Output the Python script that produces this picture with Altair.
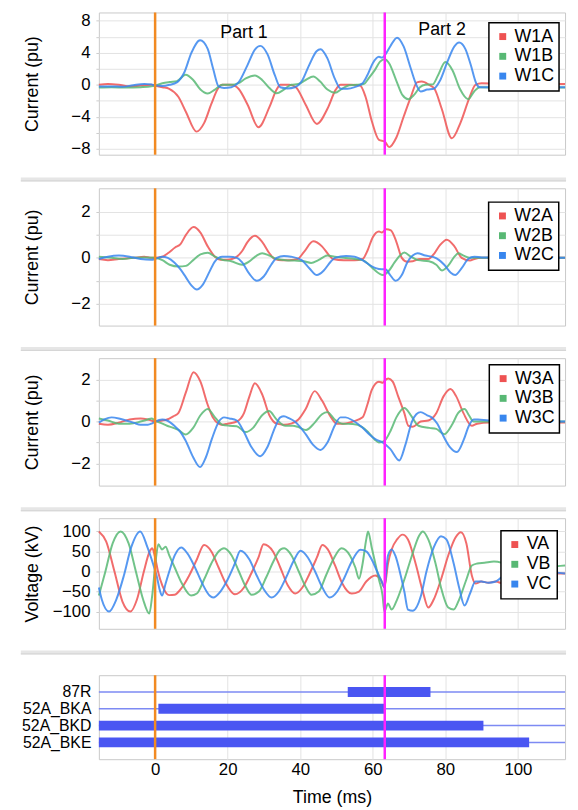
import altair as alt
import pandas as pd

FONT = "Liberation Sans"
RED, GREEN, BLUE = "#ee5252", "#58b874", "#3886ee"
ORANGE, MAGENTA = "#f28a22", "#ff22ff"

X_MIN, X_MAX = -15.5, 113.0
X_TICKS = [0, 20, 40, 60, 80, 100]
EVENT_T = [0.0, 63.3]

PART_LABELS = ["Part 1", "Part 2"]
PART_T = [24.5, 79.1]
PART_V = [6.45, 6.9]

# ---------------- winding 1 currents (pu) ----------------
W1A = [(-15.5, 0.0), (-13, 0.1), (-10, 0.0), (-7, -0.2), (-4, -0.1), (-1, 0.0), (0, -0.1), (2, -0.3),
       (3.9, -0.5), (6.4, -1.5), (8.5, -3.4), (11.4, -5.86), (13.5, -4.8), (15.5, -2.4), (17.3, -0.5),
       (18.5, 0.0), (21, 0.0), (23, -0.5), (25.5, -2.5), (28.5, -5.3), (31.5, -2.8), (33.5, -0.6),
       (34.5, 0.0), (37, 0.0), (38.8, -0.3), (41.5, -2.5), (44.6, -4.9), (47.5, -3.0), (49.8, -0.6),
       (51.1, 0.0), (54, 0.0), (56.5, -0.1), (58, -1.5), (59.7, -4.5), (61.7, -6.9), (63.3, -7.1),
       (64.5, -7.8), (66.5, -6.6), (68.5, -4.0), (70.5, -1.5), (72.2, 0.3), (73.5, 0.4), (75.5, 0.0),
       (77, -0.5), (79, -3.0), (81.8, -6.7), (84.3, -4.6), (86.5, -1.8), (88.3, 0.0), (90, 0.2),
       (95, 0.1), (105, 0.1), (113, 0.1)]
W1B = [(-15.5, -0.35), (-12, -0.3), (-8, -0.35), (-4, -0.3), (-1, -0.2), (0, -0.1), (2, 0.2), (4, 0.35),
       (6, 0.45), (8.4, 1.25), (10.5, 0.6), (12.5, -0.6), (14.5, -1.1), (16.5, -0.6), (18.5, 0.0),
       (21, 0.0), (23, 0.2), (25, 0.8), (27.5, 1.15), (29.5, 0.6), (31.5, -0.4), (33.5, -1.05),
       (35.5, -0.6), (37.5, 0.0), (39.5, 0.1), (41.5, 0.6), (43.6, 1.05), (45.5, 0.4), (47.5, -0.6),
       (49.6, -1.0), (51.5, -0.5), (53.5, -0.05), (55.5, 0.0), (57.5, 0.1), (59, 0.9), (60.5, 1.8),
       (62, 2.9), (63.3, 3.2), (64.5, 2.7), (66.5, 0.5), (68.2, -1.3), (69.8, -1.8), (71.5, -1.2),
       (73, -0.3), (74.5, 0.0), (76.5, 0.05), (78, 1.2), (80, 2.85), (82, 1.8), (84, -0.5), (86.3, -1.8),
       (88, -0.8), (89.5, -0.3), (95, -0.35), (113, -0.35)]
W1C = [(-15.5, -0.2), (-12, -0.2), (-9, -0.25), (-6, -0.05), (-3, 0.1), (-1, 0.05), (0, -0.1), (2, -0.15),
       (4, 0.0), (6, 0.3), (8, 1.5), (10, 4.0), (12.4, 5.57), (14.5, 4.5), (16, 2.0), (17.5, -0.2),
       (19, -0.4), (21, -0.3), (23, 0.3), (25.5, 2.5), (27.5, 4.4), (29, 4.87), (31, 3.8), (33, 1.2),
       (34.5, -0.3), (36.5, -0.45), (38.5, -0.3), (40.5, 0.5), (42.5, 2.5), (44.5, 4.2), (45.6, 4.45),
       (47.5, 3.3), (49.5, 0.8), (51.2, -0.5), (53, -0.5), (55, -0.3), (57.2, 0.2), (58.5, 1.2),
       (60, 2.7), (61.7, 3.5), (62.5, 3.4), (63.3, 3.7), (64.8, 4.8), (66.7, 5.9), (68.5, 4.8),
       (70.5, 2.0), (72, 0.0), (73.2, -0.85), (75, -0.6), (76.8, -0.5), (78.5, 0.5), (80.5, 2.8),
       (82.5, 4.8), (83.8, 5.28), (85.5, 4.5), (87, 2.5), (88.5, 0.2), (89.5, -0.3), (95, -0.3), (113, -0.3)]

# ---------------- winding 2 currents (pu) ----------------
W2A = [(-15.5, -0.05), (-13, -0.1), (-10, -0.05), (-6, 0.0), (-3, 0.05), (-1, 0.0), (0, 0.0), (2, 0.05),
       (3.5, 0.2), (5.5, 0.45), (7, 0.6), (8.5, 1.0), (10.6, 1.34), (12.5, 1.1), (14.5, 0.5), (16.5, 0.05),
       (18, -0.08), (20, -0.08), (22, 0.0), (24, 0.3), (25.5, 0.7), (27.5, 0.96), (29.5, 0.7), (31.5, 0.2),
       (33, -0.05), (35, -0.1), (37, -0.1), (39.3, -0.05), (41, 0.25), (43.6, 0.72), (46, 0.5), (48, 0.1),
       (49, -0.05), (52, -0.1), (55, -0.1), (57.2, -0.05), (58.5, 0.3), (60, 0.9), (61.7, 1.15), (62.5, 1.1),
       (63.7, 1.25), (65, 1.2), (66.5, 0.7), (68, 0.0), (69.5, -0.17), (71, -0.15), (73, -0.05),
       (75.3, -0.05), (77, 0.2), (78.5, 0.55), (80.4, 0.79), (82.5, 0.5), (84.5, 0.0), (86.8, -0.12),
       (88, -0.05), (90, 0.0), (113, 0.0)]
W2B = [(-15.5, 0.05), (-12, 0.0), (-9, -0.05), (-6, 0.0), (-3, 0.02), (0, 0.0), (2, -0.1), (4, -0.3),
       (6.5, -0.38), (8.5, -0.35), (10.5, -0.1), (12.5, 0.15), (14.5, 0.22), (16.5, 0.05), (18.5, -0.08),
       (21, -0.15), (24, -0.3), (26, -0.15), (28, 0.1), (29.5, 0.2), (31.5, 0.1), (33.5, -0.05),
       (36, -0.1), (38.5, -0.12), (41, -0.15), (43, -0.22), (45, -0.1), (47.5, 0.1), (49.5, 0.05),
       (52, 0.0), (55, -0.05), (57.2, -0.1), (59, -0.3), (60.3, -0.5), (62.8, -0.75), (64.5, -0.55),
       (66, -0.2), (67.5, 0.1), (68.7, 0.23), (70.5, 0.05), (72.5, -0.1), (75.5, -0.15), (77.5, -0.3),
       (79.1, -0.55), (81, -0.3), (82.5, 0.05), (83.6, 0.2), (85, 0.1), (86.8, 0.0), (113, 0.0)]
W2C = [(-15.5, -0.05), (-13, 0.05), (-10, 0.1), (-7, 0.05), (-4, -0.05), (-1, -0.08), (0, -0.05),
       (2, 0.05), (3.5, 0.0), (5.3, -0.2), (7, -0.5), (8.5, -0.85), (10, -1.2), (11.5, -1.38), (13, -1.2),
       (15, -0.6), (16.5, -0.15), (18.5, 0.05), (20.5, 0.05), (22.5, 0.0), (24, -0.2), (26, -0.7),
       (28, -1.0), (30, -0.8), (32, -0.3), (33.5, 0.0), (35.5, 0.08), (37.5, 0.05), (40.4, -0.1),
       (42.5, -0.45), (44.6, -0.75), (46.5, -0.55), (48.5, -0.15), (49.6, 0.0), (52.6, 0.08), (55, 0.05),
       (57.2, -0.1), (59, -0.3), (60.8, -0.45), (62.5, -0.5), (63.5, -0.5), (64.8, -0.75), (66.3, -1.0),
       (68, -0.75), (69.5, -0.2), (71, 0.1), (72.3, 0.2), (74.5, 0.1), (76.8, 0.03), (78.3, -0.1),
       (79.7, -0.3), (81.5, -0.65), (82.7, -0.75), (84.5, -0.45), (86.3, -0.05), (88, 0.05), (90, 0.02),
       (113, 0.0)]

# ---------------- winding 3 currents (pu) ----------------
W3A = [(-15.5, -0.1), (-13, -0.15), (-10, -0.05), (-7, 0.1), (-4, 0.15), (-2, 0.1), (0, 0.0), (2, 0.05),
       (3.3, 0.1), (5, 0.25), (6.4, 0.4), (8.5, 1.4), (10.6, 2.35), (12.5, 1.9), (14.5, 0.8), (15.9, 0.2),
       (17.5, -0.1), (18.5, -0.15), (20, -0.1), (22.5, 0.0), (24.5, 0.4), (26, 1.2), (27.5, 1.82),
       (29.5, 1.3), (31.5, 0.3), (33.5, -0.1), (35.5, -0.15), (37.5, -0.1), (39.5, 0.1), (41.5, 0.6),
       (44, 1.45), (46, 1.0), (48.5, 0.2), (50.1, -0.1), (52, -0.1), (54.5, 0.0), (57.2, 0.2), (58.5, 0.8),
       (59.7, 1.5), (61.7, 1.9), (62.8, 1.85), (63.3, 1.95), (64.3, 2.05), (65.5, 1.9), (67, 1.2),
       (68.7, 0.4), (69.8, -0.2), (71, -0.25), (73.2, 0.0), (75.3, 0.05), (77.5, 0.4), (79.5, 1.2),
       (81.4, 1.55), (83, 1.2), (85, 0.4), (87.3, -0.2), (88.8, -0.1), (92, -0.05), (113, -0.05)]
W3B = [(-15.5, 0.15), (-13, 0.05), (-10, -0.1), (-7, -0.1), (-4, 0.0), (-2, 0.1), (-1, 0.15), (0, 0.05),
       (2, -0.1), (3.3, -0.2), (5, -0.3), (6.4, -0.4), (8.4, -0.62), (10.5, -0.3), (12.5, 0.3),
       (14.5, 0.6), (16.5, 0.2), (18.5, -0.15), (20.5, -0.2), (22.5, -0.22), (25, -0.5), (27, -0.3),
       (29.5, 0.3), (31.4, 0.5), (33.5, 0.1), (35.9, -0.2), (38, -0.2), (39.3, -0.25), (41.6, -0.4),
       (44, -0.05), (46, 0.35), (47.5, 0.45), (49.5, 0.1), (51.6, -0.1), (54.5, -0.12), (57, -0.25),
       (58.7, -0.5), (60.5, -0.85), (61.7, -1.0), (63.3, -0.9), (65, -0.4), (66.5, 0.2), (68.7, 0.65),
       (70.5, 0.3), (72.6, -0.2), (75.6, -0.3), (77.5, -0.35), (79.7, -0.6), (82, -0.1), (83.5, 0.4),
       (85.3, 0.6), (86.5, 0.3), (87.8, 0.0), (90, 0.0), (113, 0.0)]
W3C = [(-15.5, -0.05), (-14, 0.1), (-12, 0.2), (-10, 0.15), (-8, 0.05), (-6, -0.05), (-4, -0.15),
       (-2, -0.15), (-1, -0.1), (0, 0.0), (2, 0.1), (3.3, 0.05), (5.3, -0.2), (7, -0.5), (8.4, -0.9),
       (10.5, -1.7), (12.4, -2.17), (14, -1.7), (15.7, -0.8), (17.6, 0.0), (19, 0.2), (20.5, 0.15),
       (22.5, 0.05), (24.5, -0.5), (26.5, -1.2), (29, -1.65), (31, -1.2), (33, -0.3), (34.5, 0.2),
       (35.5, 0.25), (37, 0.15), (38.5, 0.0), (41.5, -0.6), (43.5, -1.1), (45.6, -1.35), (47.5, -1.0),
       (49.5, -0.2), (51.1, 0.2), (52.5, 0.2), (54.5, 0.05), (57.2, -0.3), (59, -0.6), (60.8, -0.85),
       (62.8, -1.0), (64.8, -1.3), (67.3, -1.85), (69, -1.1), (70.8, 0.0), (72, 0.35), (73.2, 0.45),
       (75, 0.3), (76.2, 0.2), (77.8, -0.1), (79.2, -0.6), (81.2, -1.2), (83.2, -1.45), (85, -0.9),
       (86.5, -0.2), (87.8, 0.1), (89, 0.1), (92, 0.05), (113, 0.0)]

# ---------------- phase voltages (kV) ----------------
VA = [(-15.5, 100), (-13.5, 75), (-11.2, 0), (-9, -75), (-6.8, -100), (-5, -70), (-3.1, 0), (-1.5, 50),
      (-0.8, 58), (0, 35), (0.8, 0), (2, -35), (3.9, -59), (5.4, -58), (7.4, -40), (9.4, -10), (11.5, 30),
      (13.5, 66), (15.5, 50), (17.5, 10), (19.5, -30), (22, -57), (24.5, -40), (26.5, -5), (28.5, 35),
      (29.9, 68), (32.5, 50), (34.5, 10), (36.6, -35), (38.6, -55), (40.6, -40), (42.6, -5), (44.6, 35),
      (46.1, 66), (47.6, 55), (49.6, 15), (51.6, -30), (54.2, -55), (56.2, -50), (58.2, -25), (60.7, -10),
      (62.2, -20), (63.2, -40), (64.2, 20), (65.2, 55), (66.7, 80), (68.2, 92), (69.7, 80), (71.8, 20),
      (73.8, -50), (75.3, -90), (76.8, -70), (78.8, -20), (80.8, 40), (82.8, 85), (84.3, 98), (85.8, 70),
      (87.3, -10), (88.3, -30), (89.9, -25), (91.9, -28), (93.9, -25), (95.9, -30), (97.9, -25),
      (99.9, -15), (101.9, -5), (103.9, 0), (105.9, -5), (108.9, -5), (113, -5)]
VB = [(-15.5, -60), (-13.7, 0), (-11.7, 70), (-9.5, 100), (-7.3, 70), (-5.3, 0), (-3.3, -70),
      (-1.6, -105), (-0.8, -60), (0.2, 30), (0.9, 68), (1.9, 55), (2.9, 62), (3.9, 40), (5.4, 10),
      (7.4, -30), (9.9, -60), (11.5, -55), (13.5, -20), (15.5, 20), (17.5, 50), (19.0, 58), (21.1, 40),
      (23.1, 0), (25.1, -40), (26.6, -58), (28.6, -50), (30.6, -15), (32.6, 25), (34.6, 55), (35.6, 58),
      (37.6, 40), (39.6, 0), (41.6, -40), (43.1, -58), (45.1, -50), (47.1, -10), (49.1, 30), (51.4, 58),
      (53.7, 40), (55.2, 10), (56.2, -18), (57.2, 20), (58.2, 80), (58.7, 100), (59.7, 60), (60.7, 20),
      (61.7, -20), (62.7, -60), (63.2, -100), (64.2, -80), (65.2, -95), (66.7, -70), (68.7, -20),
      (70.8, 40), (72.8, 90), (73.8, 100), (75.3, 80), (77.3, 20), (78.8, -40), (80.8, -90), (82.3, -95),
      (83.8, -70), (85.8, -20), (87.3, 15), (88.8, 20), (90.8, 22), (93.4, 25), (95.4, 22), (96.9, 15),
      (98.4, 5), (99.9, -10), (101.9, -15), (103.9, -10), (105.9, 0), (108.9, 10), (113, 15)]
VC = [(-15.5, -40), (-14.7, -70), (-12.7, -100), (-10.7, -70), (-8.6, -10), (-6.6, 60), (-4.1, 100),
      (-2.1, 60), (-0.6, 20), (0.4, -10), (1.4, -50), (1.9, -60), (2.9, -30), (3.9, 0), (5.4, 40),
      (7.2, 60), (8.9, 45), (11, 10), (13, -30), (15, -60), (16, -65), (18, -50), (20, -20), (22, 20),
      (23.5, 52), (26, 30), (28, -10), (30, -45), (32.1, -65), (34.1, -50), (36.1, -15), (38.1, 25),
      (40.1, 52), (42.1, 35), (44.1, 0), (46.1, -40), (48.1, -65), (50.2, -50), (52.2, -15), (54.2, 25),
      (56.6, 54), (58.2, 50), (59.7, 30), (61.2, 0), (62.7, -30), (63.2, -40), (64.2, 40), (65.2, 55),
      (66.2, 40), (67.7, -10), (68.7, -50), (69.7, -95), (71.0, -98), (73.3, -60), (74.8, 0), (76.8, 60),
      (78.8, 88), (80.3, 80), (82.3, 20), (83.8, -40), (85.3, -85), (86.8, -55), (88.3, -25), (89.9, -25),
      (91.9, -28), (93.9, -25), (95.4, -15), (96.9, -5), (98.9, 0), (101.9, 0), (105.9, 0), (113, -5)]

# ---------------- digital channels ----------------
DIG_NAMES = ["87R", "52A_BKA", "52A_BKD", "52A_BKE"]
DIG_START = [53.1, 0.9, -15.5, -15.5]
DIG_END = [75.9, 63.2, 90.5, 103.1]

# ---------------- layout ----------------
PLOT_W = 472
H = [144, 139, 129, 112, 85]
SEP = [None, 9.0, 9.4, 9.0, 23.1]
LEG = [(394.9, 10.4), (394.6, 14.0), (395.3, 6.7), (407.1, 12.7)]
TITLE_X = -66.7


def series_frame(named):
    rows = []
    for name, pts in named:
        for t, v in pts:
            rows.append({"series": name, "t": t, "v": v})
    return pd.DataFrame(rows)


def xenc(field, bottom=False):
    if bottom:
        axis = alt.Axis(values=X_TICKS, title="Time (ms)", labelFontSize=17, titleFontSize=18,
                        ticks=False, domain=False, labelPadding=3, titlePadding=11, grid=True,
                        labelFlush=False)
    else:
        axis = alt.Axis(values=X_TICKS, labels=False, ticks=False, domain=False, title=None, grid=True)
    return alt.X(f"{field}:Q", scale=alt.Scale(domain=[X_MIN, X_MAX], nice=False, zero=False), axis=axis)


def event_layers(xe):
    out = []
    for t, col in zip(EVENT_T, [ORANGE, MAGENTA]):
        out.append(alt.Chart(pd.DataFrame({"t": [t]})).mark_rule(color=col, strokeWidth=2.5)
                   .encode(x=xe))
    return out


def separator(offset):
    base = alt.Chart(alt.Data(values=[{}]))
    band = base.mark_rule(color="#e6e6e6", strokeWidth=4).encode(
        x=alt.value(-79), x2=alt.value(PLOT_W + 1), y=alt.value(-offset))
    line = base.mark_rule(color="#d2d2d2", strokeWidth=1).encode(
        x=alt.value(-79), x2=alt.value(PLOT_W + 1), y=alt.value(-offset + 1.5))
    return [band, line]


def wave_panel(idx, named, title, domain, values, step, extra=None):
    df = series_frame(named)
    names = [n for n, _ in named]
    h = H[idx]
    lx, ly = LEG[idx]
    xe = xenc("t")
    ye = alt.Y("v:Q", scale=alt.Scale(domain=domain, nice=False, zero=False),
               axis=alt.Axis(values=values,
                             labelExpr=f"datum.value % {step} == 0 ? datum.label : ''",
                             title=title, titleX=TITLE_X, titleY=h / 2, titleAngle=270,
                             titleBaseline="middle", titleAlign="center", titleFontSize=18,
                             labelFontSize=17, labelPadding=6, tickSize=3, tickColor="#cccccc",
                             domain=False, grid=True))
    color = alt.Color("series:N", scale=alt.Scale(domain=names, range=[RED, GREEN, BLUE]),
                      legend=alt.Legend(orient="none", legendX=lx, legendY=ly, title=None,
                                        symbolType="square", symbolSize=9, symbolStrokeWidth=4,
                                        symbolOpacity=1, labelFontSize=18, labelOffset=3,
                                        rowPadding=0, padding=5))
    lines = alt.Chart(df).mark_line(interpolate="monotone", strokeWidth=2, opacity=0.85).encode(
        x=xe, y=ye, color=color)
    layers = [lines] + event_layers(xe)
    if SEP[idx] is not None:
        layers += separator(SEP[idx])
    if extra is not None:
        layers.append(extra(xe, ye))
    return alt.layer(*layers).properties(width=PLOT_W, height=h)


def part_text(xe, ye):
    df = pd.DataFrame({"label": PART_LABELS, "t": PART_T, "v": PART_V})
    return alt.Chart(df).mark_text(fontSize=18, font=FONT, color="black", baseline="middle",
                                   align="center").encode(x=xe, y=ye, text="label:N")


p1 = wave_panel(0, [("W1A", W1A), ("W1B", W1B), ("W1C", W1C)], "Current (pu)", [-8.75, 9.05],
                [-8, -6, -4, -2, 0, 2, 4, 6, 8], 4, extra=part_text)
p2 = wave_panel(1, [("W2A", W2A), ("W2B", W2B), ("W2C", W2C)], "Current (pu)", [-2.95, 3.03],
                [-2, -1, 0, 1, 2], 2)
p3 = wave_panel(2, [("W3A", W3A), ("W3B", W3B), ("W3C", W3C)], "Current (pu)", [-3.05, 3.02],
                [-2, -1, 0, 1, 2], 2)
p4 = wave_panel(3, [("VA", VA), ("VB", VB), ("VC", VC)], "Voltage (kV)", [-143, 133],
                [-100, -50, 0, 50, 100], 50)

# digital panel
dig = pd.DataFrame({"name": DIG_NAMES, "start": DIG_START, "end": DIG_END,
                    "lo": [X_MIN] * len(DIG_NAMES), "hi": [X_MAX] * len(DIG_NAMES)})
xb = xenc("lo", bottom=True)
yd = alt.Y("name:N", sort=DIG_NAMES, scale=alt.Scale(type="point", padding=1.0),
           axis=alt.Axis(title=None, ticks=False, domain=False, grid=False, labelFontSize=16,
                         labelPadding=8, labelOverlap=False, labelBound=False))
thin = alt.Chart(dig).mark_rule(color="#7d8af3", strokeWidth=1.5).encode(
    x=xb, x2="hi:Q", y=yd)
bars = alt.Chart(dig).mark_rule(color="#4a56f2", strokeWidth=10, strokeCap="butt").encode(
    x=xenc("start", bottom=True), x2="end:Q", y=yd)
p5 = alt.layer(thin, bars, *event_layers(xenc("t", bottom=True)), *separator(SEP[4])).properties(
    width=PLOT_W, height=H[4])

chart = alt.vconcat(p1, p2, p3, p4, p5, spacing=19).resolve_scale(
    color="independent", x="independent").properties(
    padding={"left": 10, "top": -2.5, "right": 0, "bottom": 4})

chart = chart.configure(font=FONT).configure_view(stroke="#c8c8c8", strokeWidth=1).configure_axis(
    labelFont=FONT, titleFont=FONT, labelColor="black", titleColor="black", titleFontWeight="normal",
    gridColor="#e3e3e3", gridWidth=1).configure_legend(
    strokeColor="black", fillColor="white", strokeWidth=1.5, labelFont=FONT, labelColor="black")

chart.save("out.html", embed_options={"renderer": "svg", "actions": False})
